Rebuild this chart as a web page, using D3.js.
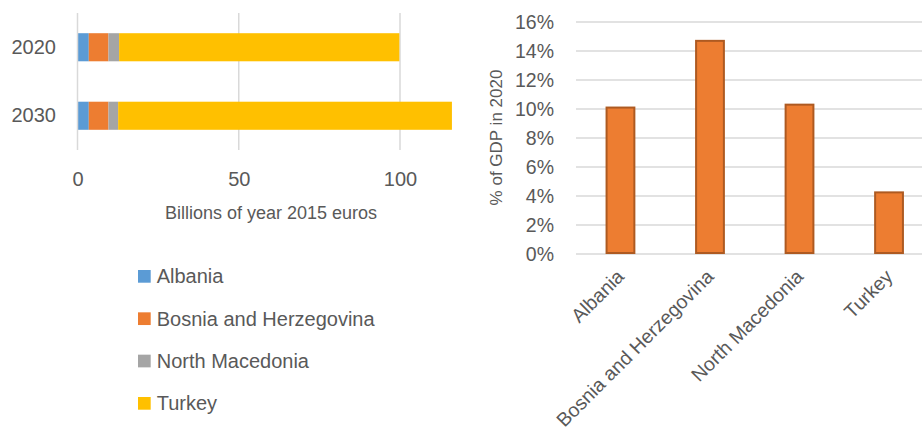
<!DOCTYPE html>
<html>
<head>
<meta charset="utf-8">
<script src="https://cdn.jsdelivr.net/npm/d3@7"></script>
<style>
  html, body { margin: 0; padding: 0; background: #fff; }
  svg { display: block; font-family: "Liberation Sans", Arial, sans-serif; }
</style>
</head>
<body>
<svg id="chart" width="922" height="436"></svg>
<script>
// ---------- DATA ----------
const years = ["2020", "2030"];
const countries = ["Albania", "Bosnia and Herzegovina", "North Macedonia", "Turkey"];
const albaniaValues = [3.5, 3.5];
const bosniaValues = [6.1, 6.1];
const northMacedoniaValues = [3.3, 3.0];
const turkeyValues = [86.9, 103.5];
const xTicksLeft = [0, 50, 100];
const leftAxisTitle = "Billions of year 2015 euros";

const gdpShare = [0.101, 0.147, 0.103, 0.0425];
const yTicksRight = [0, 0.02, 0.04, 0.06, 0.08, 0.10, 0.12, 0.14, 0.16];
const rightAxisTitle = "% of GDP in 2020";

const seriesColors = ["#5B9BD5", "#ED7D31", "#A5A5A5", "#FFC000"];
const textColor = "#595959";
const gridColor = "#D9D9D9";

// ---------- SETUP ----------
const svg = d3.select("#chart");

// ---------- LEFT: stacked horizontal bars ----------
const seriesValues = [albaniaValues, bosniaValues, northMacedoniaValues, turkeyValues];
const rows = years.map((y, i) => {
  const r = { year: y };
  countries.forEach((c, j) => r[c] = seriesValues[j][i]);
  return r;
});
const stacked = d3.stack().keys(countries)(rows);

const xL = d3.scaleLinear().domain([0, 100]).range([77.5, 400]);
const yL = d3.scaleBand().domain(years).range([13, 150]).paddingInner(0.59).paddingOuter(0.295);

const gL = svg.append("g");
// gridlines
gL.selectAll("line.grid").data(xTicksLeft.filter(d => d !== 0)).join("line")
  .attr("x1", d => xL(d)).attr("x2", d => xL(d))
  .attr("y1", 13).attr("y2", 150)
  .attr("stroke", gridColor).attr("stroke-width", 1.5);

// bars
gL.selectAll("g.series").data(stacked).join("g")
  .attr("fill", (d, i) => seriesColors[i])
  .selectAll("rect").data(d => d).join("rect")
  .attr("x", d => xL(d[0]))
  .attr("width", d => xL(d[1]) - xL(d[0]))
  .attr("y", d => yL(d.data.year))
  .attr("height", yL.bandwidth());

// category axis line
gL.append("line")
  .attr("x1", xL(0)).attr("x2", xL(0))
  .attr("y1", 13).attr("y2", 150)
  .attr("stroke", gridColor).attr("stroke-width", 1.5);

// y labels
const yAxisL = d3.axisLeft(yL).tickSize(0).tickPadding(0);
const yAxG = gL.append("g").attr("transform", `translate(56,0)`).call(yAxisL);
yAxG.select(".domain").remove();
yAxG.selectAll("text").attr("fill", textColor).style("font-size", "20px")
  .attr("font-family", "Liberation Sans, Arial, sans-serif");

// x labels
const xAxisL = d3.axisBottom(xL).tickValues(xTicksLeft).tickSize(0).tickPadding(0);
const xAxG = gL.append("g").attr("transform", `translate(0,172)`).call(xAxisL);
xAxG.select(".domain").remove();
xAxG.selectAll("text").attr("fill", textColor).style("font-size", "20px")
  .attr("font-family", "Liberation Sans, Arial, sans-serif");

gL.append("text")
  .attr("x", 271).attr("y", 219)
  .attr("text-anchor", "middle")
  .attr("fill", textColor).style("font-size", "18px")
  .text(leftAxisTitle);

// legend
const legend = svg.append("g");
const legY = d3.scalePoint().domain(countries).range([276.3, 403.3]);
const legItems = legend.selectAll("g").data(countries).join("g")
  .attr("transform", d => `translate(138,${legY(d)})`);
legItems.append("rect")
  .attr("x", 0).attr("y", -6.3).attr("width", 12.7).attr("height", 12.7)
  .attr("fill", (d, i) => seriesColors[i]);
legItems.append("text")
  .attr("x", 18.7).attr("y", 0).attr("dy", "0.35em")
  .attr("fill", textColor).style("font-size", "20px")
  .text(d => d);

// ---------- RIGHT: column chart ----------
const xR = d3.scaleBand().domain(countries).range([575.75, 933.75]).paddingInner(0.667).paddingOuter(0.333);
const yR = d3.scaleLinear().domain([0, 0.16]).range([254, 22]);

const gR = svg.append("g");
gR.selectAll("line.grid").data(yTicksRight).join("line")
  .attr("x1", 576).attr("x2", 934)
  .attr("y1", d => yR(d)).attr("y2", d => yR(d))
  .attr("stroke", gridColor).attr("stroke-width", 1.5);

gR.selectAll("rect").data(countries).join("rect")
  .attr("x", d => xR(d) + 1)
  .attr("width", xR.bandwidth() - 2)
  .attr("y", (d, i) => yR(gdpShare[i]))
  .attr("height", (d, i) => yR(0) - yR(gdpShare[i]) - 1)
  .attr("fill", "#ED7D31")
  .attr("stroke", "#AE5A21").attr("stroke-width", 2);

// y axis labels
const yAxisR = d3.axisLeft(yR).tickValues(yTicksRight).tickFormat(d3.format(".0%")).tickSize(0).tickPadding(0);
const yRG = gR.append("g").attr("transform", `translate(554,0)`).call(yAxisR);
yRG.select(".domain").remove();
yRG.selectAll("text").attr("fill", textColor).style("font-size", "19.5px")
  .attr("font-family", "Liberation Sans, Arial, sans-serif");

// y title
gR.append("text")
  .attr("transform", "translate(495.7,137.5) rotate(-90)")
  .attr("text-anchor", "middle").attr("dy", "0.35em")
  .attr("fill", textColor).style("font-size", "17px")
  .text(rightAxisTitle);

// x labels rotated
gR.selectAll("text.xl").data(countries).join("text")
  .attr("class", "xl")
  .attr("transform", d => `translate(${xR(d) + xR.bandwidth() / 2},273) rotate(-45)`)
  .attr("text-anchor", "end").attr("dy", "0.35em")
  .attr("fill", textColor).style("font-size", "19.5px")
  .text(d => d);
</script>
</body>
</html>
